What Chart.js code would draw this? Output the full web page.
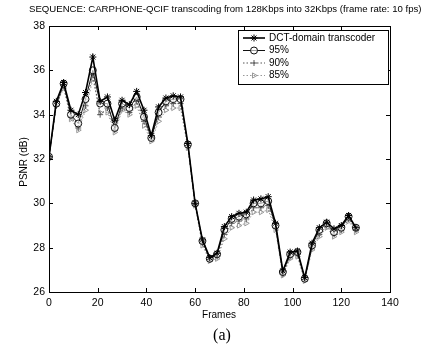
<!DOCTYPE html>
<html>
<head>
<meta charset="utf-8">
<script src="https://cdn.jsdelivr.net/npm/chart.js@4.4.1/dist/chart.umd.min.js"></script>
<style>
  html, body { margin: 0; padding: 0; background: #fff; }
  #wrap { width: 425px; height: 349px; }
</style>
</head>
<body>
<div id="wrap"><canvas id="psnrChart" width="425" height="349"></canvas></div>
<script>
// frame numbers of each sample
var frames = [0, 3, 6, 9, 12, 15, 18, 21, 24, 27, 30, 33, 36, 39, 42, 45, 48, 51, 54, 57,
  60, 63, 66, 69, 72, 75, 78, 81, 84, 87, 90, 93, 96, 99, 102, 105, 108, 111, 114, 117,
  120, 123, 126];

// PSNR values
var dctPsnr = [32.1, 34.6, 35.45, 34.2, 34.0, 35.0, 36.6, 34.6, 34.8, 33.75, 34.65, 34.45, 35.05, 34.2, 33.05, 34.35, 34.75, 34.85, 34.8, 32.7,
  30.0, 28.35, 27.55, 27.75, 28.95, 29.4, 29.55, 29.6, 30.15, 30.2, 30.3, 29.1, 26.95, 27.8, 27.85, 26.65, 28.2, 28.9, 29.15, 28.85,
  29.0, 29.45, 28.9];
var psnr95 = [32.1, 34.5, 35.4, 34.0, 33.6, 34.7, 36.0, 34.5, 34.5, 33.4, 34.5, 34.3, 34.8, 33.9, 32.95, 34.1, 34.6, 34.7, 34.7, 32.65,
  30.0, 28.3, 27.5, 27.7, 28.8, 29.3, 29.4, 29.5, 30.0, 30.0, 30.1, 29.0, 26.9, 27.7, 27.8, 26.6, 28.1, 28.8, 29.1, 28.7,
  28.9, 29.4, 28.9];
var psnr90 = [32.1, 34.4, 35.3, 33.9, 33.4, 34.4, 35.8, 34.0, 34.3, 33.3, 34.3, 34.1, 34.6, 33.7, 32.9, 33.9, 34.4, 34.5, 34.5, 32.6,
  29.95, 28.2, 27.45, 27.6, 28.6, 29.1, 29.2, 29.3, 29.8, 29.8, 29.9, 28.9, 26.8, 27.6, 27.7, 26.55, 28.0, 28.6, 29.0, 28.6,
  28.8, 29.3, 28.8];
var psnr85 = [32.05, 34.4, 35.2, 33.8, 33.3, 34.2, 35.6, 34.1, 34.1, 33.2, 34.2, 34.0, 34.4, 33.5, 32.8, 33.7, 34.2, 34.3, 34.3, 32.5,
  29.9, 28.1, 27.4, 27.5, 28.4, 28.9, 29.0, 29.1, 29.6, 29.6, 29.7, 28.8, 26.75, 27.5, 27.6, 26.5, 27.9, 28.5, 28.9, 28.5,
  28.7, 29.2, 28.7];

var xTicks = [0, 20, 40, 60, 80, 100, 120, 140];
var yTicks = [26, 28, 30, 32, 34, 36, 38];

var titleText = 'SEQUENCE: CARPHONE-QCIF transcoding from 128Kbps into 32Kbps (frame rate: 10 fps)';
var xTitle = 'Frames';
var yTitle = 'PSNR (dB)';
var caption = '(a)';

var sans = '"Liberation Sans", Arial, sans-serif';

function toPoints(ys) {
  return frames.map(function (f, i) { return { x: f, y: ys[i] }; });
}

var seriesList = [
  { label: 'DCT-domain transcoder', values: dctPsnr, color: '#000', width: 1.6, dash: [], style: 'star', radius: 3.5, fill: '#000' },
  { label: '95%', values: psnr95, color: '#111', width: 1, dash: [], style: 'circle', radius: 3.5, fill: 'rgba(255,255,255,0.6)' },
  { label: '90%', values: psnr90, color: '#555', width: 1, dash: [1.5, 2], style: 'cross', radius: 3, fill: '#555' },
  { label: '85%', values: psnr85, color: '#999', width: 1, dash: [1.5, 2], style: 'triangle', radius: 3, fill: 'rgba(255,255,255,0)' }
];

// draw the box, inward ticks, texts and legend like the original figure
var figurePlugin = {
  id: 'figure',
  afterDraw: function (chart) {
    var ctx = chart.ctx;
    var a = chart.chartArea;
    var xs = chart.scales.x, ys = chart.scales.y;
    ctx.save();
    ctx.strokeStyle = '#000';
    ctx.lineWidth = 1;
    ctx.strokeRect(Math.round(a.left) + 0.5, Math.round(a.top) + 0.5, Math.round(a.right - a.left), Math.round(a.bottom - a.top));

    ctx.beginPath();
    xTicks.forEach(function (t) {
      var px = Math.round(xs.getPixelForValue(t)) + 0.5;
      ctx.moveTo(px, a.bottom); ctx.lineTo(px, a.bottom - 4);
      ctx.moveTo(px, a.top); ctx.lineTo(px, a.top + 4);
    });
    yTicks.forEach(function (t) {
      var py = Math.round(ys.getPixelForValue(t)) + 0.5;
      ctx.moveTo(a.left, py); ctx.lineTo(a.left + 4, py);
      ctx.moveTo(a.right, py); ctx.lineTo(a.right - 4, py);
    });
    ctx.stroke();

    // title, fitted to the width it has in the scan
    ctx.fillStyle = '#000';
    var size = 10;
    ctx.font = size + 'px ' + sans;
    var w = ctx.measureText(titleText).width;
    size = size * 393 / w;
    ctx.font = size + 'px ' + sans;
    ctx.textAlign = 'left';
    ctx.textBaseline = 'middle';
    ctx.fillText(titleText, 29, 9);

    ctx.font = '10px ' + sans;
    ctx.textAlign = 'center';
    ctx.fillText(xTitle, 219, 315);

    ctx.save();
    ctx.translate(24, 162);
    ctx.rotate(-Math.PI / 2);
    ctx.fillText(yTitle, 0, 0);
    ctx.restore();

    ctx.font = '16px "Liberation Serif", "Times New Roman", serif';
    ctx.fillText(caption, 222, 336);

    // legend
    var bx = 238, by = 30, bw = 150, bh = 54;
    ctx.fillStyle = '#fff';
    ctx.fillRect(bx, by, bw, bh);
    ctx.strokeStyle = '#000';
    ctx.lineWidth = 1;
    ctx.strokeRect(bx + 0.5, by + 0.5, bw, bh);
    var rows = [38, 50.5, 63, 75.5];
    chart.data.datasets.forEach(function (ds, i) {
      var y = rows[i];
      ctx.save();
      ctx.strokeStyle = ds.borderColor;
      ctx.lineWidth = ds.borderWidth;
      ctx.setLineDash(ds.borderDash || []);
      ctx.beginPath();
      ctx.moveTo(243, y); ctx.lineTo(265, y);
      ctx.stroke();
      ctx.setLineDash([]);
      ctx.fillStyle = ds.pointBackgroundColor;
      ctx.lineWidth = ds.pointBorderWidth;
      Chart.helpers.drawPoint(ctx, { pointStyle: ds.pointStyle, radius: ds.pointRadius, rotation: ds.pointRotation || 0, borderWidth: ds.pointBorderWidth }, 254, y);
      ctx.restore();
      ctx.fillStyle = '#000';
      ctx.font = '10px ' + sans;
      ctx.textAlign = 'left';
      ctx.fillText(ds.label, 269, y);
    });
    ctx.restore();
  }
};

var ctx = document.getElementById('psnrChart').getContext('2d');

var myChart = new Chart(ctx, {
  type: 'line',
  data: {
    datasets: seriesList.map(function (s) {
      return {
        label: s.label,
        data: toPoints(s.values),
        borderColor: s.color,
        borderWidth: s.width,
        borderDash: s.dash,
        pointStyle: s.style,
        pointRadius: s.radius,
        pointRotation: s.style === 'triangle' ? 90 : 0,
        pointBorderColor: s.color,
        pointBackgroundColor: s.fill,
        pointBorderWidth: 1,
        tension: 0,
        fill: false
      };
    })
  },
  options: {
    responsive: false,
    animation: false,
    layout: { padding: { left: 0, right: 35, top: 26, bottom: 0 } },
    plugins: {
      legend: { display: false },
      tooltip: { enabled: false }
    },
    scales: {
      x: {
        type: 'linear',
        min: 0,
        max: 140,
        afterBuildTicks: function (scale) {
          scale.ticks = xTicks.map(function (v) { return { value: v }; });
        },
        afterFit: function (scale) { scale.height = 57; },
        grid: { display: false, drawTicks: false },
        border: { display: false },
        ticks: {
          padding: 5,
          color: '#000',
          maxRotation: 0,
          font: { family: sans, size: 10.5 }
        }
      },
      y: {
        min: 26,
        max: 38,
        afterBuildTicks: function (scale) {
          scale.ticks = yTicks.map(function (v) { return { value: v }; });
        },
        afterFit: function (scale) { scale.width = 49; },
        grid: { display: false, drawTicks: false },
        border: { display: false },
        ticks: {
          padding: 4,
          color: '#000',
          font: { family: sans, size: 10.5 }
        }
      }
    }
  },
  plugins: [figurePlugin]
});
</script>
</body>
</html>
